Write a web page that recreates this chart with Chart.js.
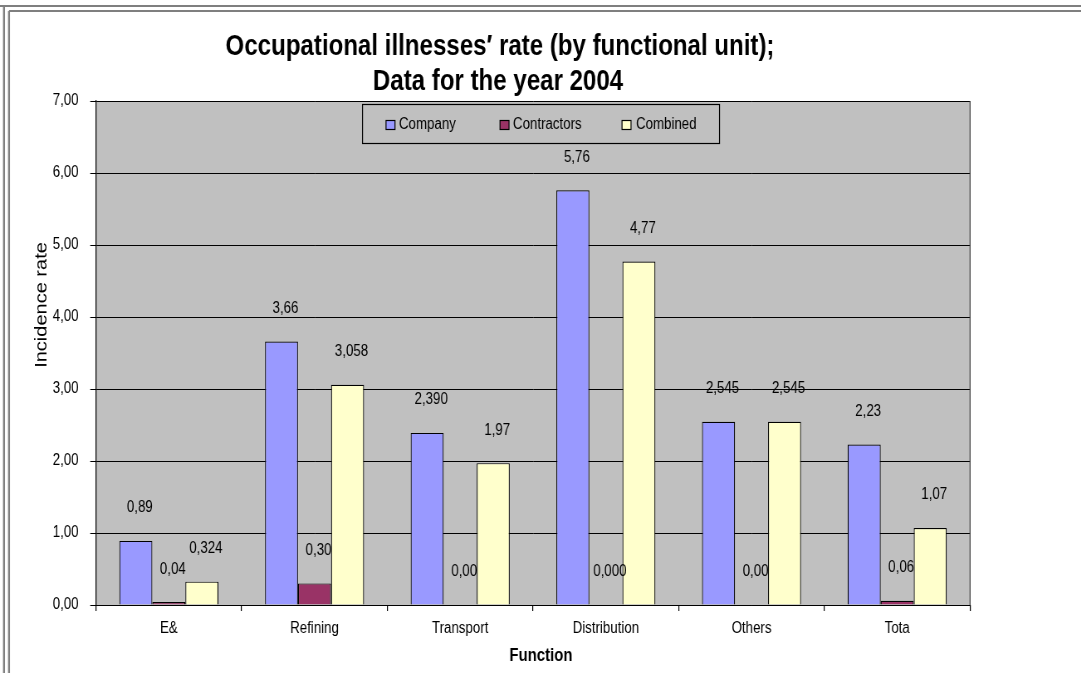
<!DOCTYPE html>
<html>
<head>
<meta charset="utf-8">
<script src="https://cdn.jsdelivr.net/npm/chart.js@4.4.1/dist/chart.umd.min.js"></script>
<style>
  html, body { margin: 0; padding: 0; background: #ffffff; overflow: hidden; width: 1081px; height: 673px; }
  #wrap { width: 1302px; height: 673px; transform-origin: 0 0; }
</style>
</head>
<body>
<div id="wrap"><canvas id="c" width="1302" height="673"></canvas></div>
<script>
// ---- data ----
const categories = ['E&', 'Refining', 'Transport', 'Distribution', 'Others', 'Tota'];
const seriesNames = ['Company', 'Contractors', 'Combined'];
const companyValues = [0.89, 3.66, 2.390, 5.76, 2.545, 2.23];
const contractorValues = [0.04, 0.30, 0.00, 0.000, 0.00, 0.06];
const combinedValues = [0.324, 3.058, 1.97, 4.77, 2.545, 1.07];
const companyLabels = ['0,89', '3,66', '2,390', '5,76', '2,545', '2,23'];
const contractorLabels = ['0,04', '0,30', '0,00', '0,000', '0,00', '0,06'];
const combinedLabels = ['0,324', '3,058', '1,97', '4,77', '2,545', '1,07'];
const yTickLabels = ['0,00', '1,00', '2,00', '3,00', '4,00', '5,00', '6,00', '7,00'];
const titleLines = ['Occupational illnesses\u2032 rate (by functional unit);', 'Data for the year 2004'];
const xTitle = 'Function';
const yTitle = 'Incidence rate';

// The reference is horizontally condensed: draw wider, then squeeze.
const S = 0.8303;
const W = 1081 / S;
document.getElementById('wrap').style.transform = 'scaleX(' + S + ')';
const X = v => v / S;

const FONT = "'Liberation Sans', Arial, sans-serif";
const colors = ['#9999FF', '#993366', '#FFFFCC'];
const valueLabels = [companyLabels, contractorLabels, combinedLabels];

const decor = {
  id: 'decor',
  beforeDraw(chart) {
    const ctx = chart.ctx, a = chart.chartArea;
    ctx.save();
    ctx.fillStyle = '#ffffff';
    ctx.fillRect(0, 0, chart.width, chart.height);
    ctx.fillStyle = '#C0C0C0';
    ctx.fillRect(a.left, a.top, a.right - a.left, a.bottom - a.top);
    ctx.strokeStyle = '#7f7f7f';
    ctx.lineWidth = 2;
    ctx.beginPath();
    ctx.moveTo(0, 6); ctx.lineTo(chart.width, 6);
    ctx.moveTo(9 / S, 11); ctx.lineTo(chart.width, 11);
    ctx.stroke();
    ctx.lineWidth = 2.4;
    ctx.beginPath();
    ctx.moveTo(X(4), 6); ctx.lineTo(X(4), chart.height);
    ctx.moveTo(X(9), 11); ctx.lineTo(X(9), chart.height);
    ctx.stroke();
    ctx.restore();
  },
  afterDatasetsDraw(chart) {
    const ctx = chart.ctx, a = chart.chartArea;
    ctx.save();
    ctx.strokeStyle = '#404040';
    ctx.lineWidth = 1.2;
    ctx.beginPath();
    ctx.moveTo(a.right, a.top); ctx.lineTo(a.right, a.bottom);
    ctx.stroke();
    // value labels
    ctx.fillStyle = '#000';
    ctx.font = "16px " + FONT;
    ctx.textAlign = 'center';
    ctx.textBaseline = 'middle';
    chart.data.datasets.forEach((ds, di) => {
      const meta = chart.getDatasetMeta(di);
      meta.data.forEach((bar, i) => {
        ctx.fillText(valueLabels[di][i], bar.x + X(4), bar.y - 33);
      });
    });
    // title
    ctx.font = "bold 29px " + FONT;
    ctx.fillText(titleLines[0], X(500), 47);
    ctx.fillText(titleLines[1], X(498), 82);
    // x title
    ctx.font = "bold 18px " + FONT;
    ctx.fillText(xTitle, X(541), 656);
    // y title
    ctx.save();
    ctx.translate(X(42), 305);
    ctx.rotate(-Math.PI / 2);
    ctx.font = "20px " + FONT;
    ctx.fillText(yTitle, 0, 0);
    ctx.restore();
    // legend
    ctx.fillStyle = '#C0C0C0';
    ctx.fillRect(X(362), 104, X(357), 39);
    ctx.strokeStyle = '#000';
    ctx.lineWidth = 1.2;
    ctx.strokeRect(X(362.5), 104.5, X(357), 39);
    const items = [[386, 399], [500, 513], [622, 636]];
    ctx.font = "16px " + FONT;
    ctx.textAlign = 'left';
    chart.data.datasets.forEach((ds, di) => {
      const [bx, tx] = items[di];
      ctx.fillStyle = ds.backgroundColor;
      ctx.fillRect(X(bx), 120, X(9), 9);
      ctx.strokeStyle = '#000';
      ctx.strokeRect(X(bx), 120.5, X(9), 9);
      ctx.fillStyle = '#000';
      ctx.fillText(ds.label, X(tx), 125);
    });
    ctx.restore();
  }
};

new Chart(document.getElementById('c'), {
  type: 'bar',
  data: {
    labels: categories,
    datasets: [
      { label: seriesNames[0], data: companyValues, backgroundColor: colors[0] },
      { label: seriesNames[1], data: contractorValues, backgroundColor: colors[1] },
      { label: seriesNames[2], data: combinedValues, backgroundColor: colors[2] }
    ].map(d => Object.assign(d, { borderColor: '#000', borderWidth: 1.2, categoryPercentage: 0.68, barPercentage: 1.0 }))
  },
  options: {
    responsive: false,
    animation: false,
    devicePixelRatio: 1,
    layout: { padding: { left: 0, top: 101, right: X(1081 - 970), bottom: 0 } },
    plugins: { legend: { display: false }, title: { display: false }, tooltip: { enabled: false } },
    scales: {
      x: {
        offset: true,
        grid: { drawOnChartArea: false, drawTicks: true, tickLength: 6, color: '#000', offset: true, lineWidth: 1.2 },
        border: { display: true, color: '#000', width: 1 },
        ticks: { color: '#000', font: { family: FONT, size: 16 }, padding: 8, maxRotation: 0 },
        afterFit(s) { s.height = 68; }
      },
      y: {
        min: 0, max: 7,
        grid: { color: '#000', lineWidth: 1, tickLength: 7, drawTicks: true },
        border: { display: true, color: '#000', width: 1.2 },
        ticks: {
          stepSize: 1, color: '#000', font: { family: FONT, size: 16 }, padding: 14,
          callback: (v, i) => yTickLabels[i]
        },
        afterFit(s) { s.width = X(96); }
      }
    }
  },
  plugins: [decor]
});
</script>
</body>
</html>
